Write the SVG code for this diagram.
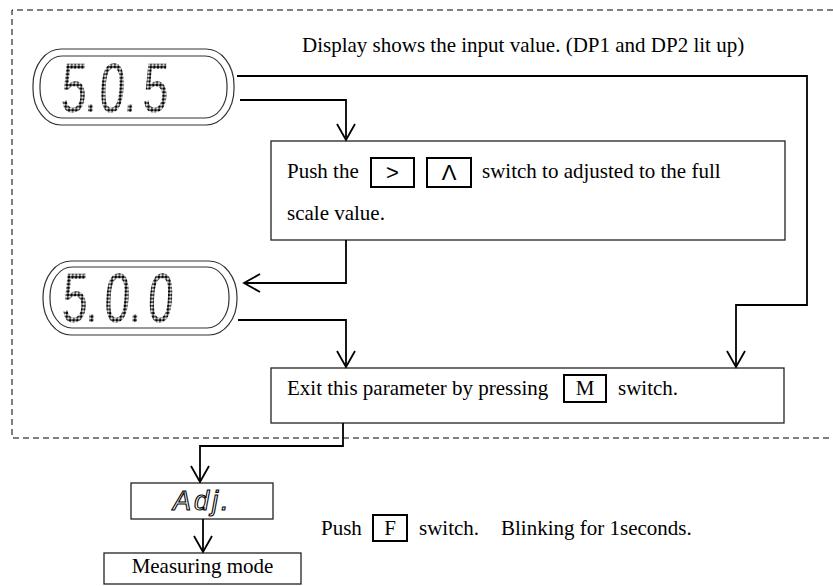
<svg xmlns="http://www.w3.org/2000/svg" width="833" height="586" viewBox="0 0 833 586">
<style>
.t{font-family:"Liberation Serif","Times New Roman",serif;font-size:21px;fill:#000}
.box{fill:#fff;stroke:#222;stroke-width:1.3}
.sw{fill:none;stroke:#000;stroke-width:2}
.disp{fill:none;stroke:#333;stroke-width:1.2}
.dig{font-family:"Liberation Sans",Arial,sans-serif;font-size:70px;fill:url(#dots)}
.conn{fill:none;stroke:#000;stroke-width:1.8}
.frame{fill:none;stroke:#000;stroke-width:1;stroke-dasharray:6 4}
.swl{font-family:"Liberation Sans",Arial,sans-serif;font-size:22px;fill:#000}
</style>
<defs>
<pattern id="dots" width="3.6" height="3.6" patternUnits="userSpaceOnUse" patternTransform="scale(1.515,1)">
<circle cx="1.8" cy="1.8" r="1.65" fill="#000"/>
</pattern>
<marker id="arr" viewBox="-18 -11 20 22" markerWidth="20" markerHeight="22" refX="0" refY="0" markerUnits="userSpaceOnUse" orient="auto" overflow="visible">
<path d="M-16,-9 L0,0 L-16,9" fill="none" stroke="#000" stroke-width="1.8"/>
</marker>
</defs>
<path class="frame" d="M833,10 H12 V438 H833"/>
<g id="title"><text class="t" x="302" y="52">Display shows the input value. (DP1 and DP2 lit up)</text></g>
<g id="display1">
<rect class="disp" x="33" y="49" width="201" height="76" rx="28" ry="36"/>
<rect class="disp" x="40" y="56" width="187" height="62" rx="22" ry="29"/>
<text class="dig" transform="translate(60,112) scale(0.66,1) skewX(-5)" x="0 36 58 96 124">5.0.5</text>
</g>
<g id="box2">
<rect class="box" x="271" y="141" width="514" height="99"/>
<text class="t" x="287" y="178">Push the</text>
<rect class="sw" x="371" y="158" width="43" height="29"/>
<text class="swl" x="392.5" y="180" text-anchor="middle">&gt;</text>
<rect class="sw" x="427" y="158" width="44" height="29"/>
<text class="swl" x="449" y="180" text-anchor="middle">Λ</text>
<text class="t" x="482" y="178">switch to adjusted to the full</text>
<text class="t" x="287" y="220">scale value.</text>
</g>
<g id="display2">
<rect class="disp" x="43" y="261" width="194" height="74" rx="28" ry="36"/>
<rect class="disp" x="50" y="267" width="179" height="61" rx="22" ry="29"/>
<text class="dig" transform="translate(61,322) scale(0.66,1) skewX(-5)" x="0 36 64 102 130">5.0.0</text>
</g>
<g id="box3">
<rect class="box" x="271" y="368" width="513" height="55"/>
<text class="t" x="287" y="395">Exit this parameter by pressing</text>
<rect class="sw" x="564" y="375" width="42" height="27"/>
<text class="t" x="585" y="395" text-anchor="middle">M</text>
<text class="t" x="618" y="395">switch.</text>
</g>
<g id="adj">
<rect class="box" x="131" y="483" width="142" height="36"/>
<text transform="translate(173,510) skewX(-0.01)" x="0" y="0" font-family="Liberation Sans,Arial,sans-serif" font-size="27" font-style="italic" fill="none" stroke="#000" stroke-width="1.1" letter-spacing="3">Adj.</text>
</g>
<g id="note">
<text class="t" x="321" y="535">Push</text>
<rect class="sw" x="373" y="515" width="34" height="26"/>
<text class="t" x="390" y="535" text-anchor="middle">F</text>
<text class="t" x="419" y="535">switch.</text>
<text class="t" x="501" y="535">Blinking for 1seconds.</text>
</g>
<g id="measuring">
<rect class="box" x="104" y="553" width="197" height="31"/>
<text class="t" x="202.5" y="573" text-anchor="middle">Measuring mode</text>
</g>
<g id="connectors">
<path class="conn" d="M237,76 H807 V305 H736 V367" marker-end="url(#arr)"/>
<path class="conn" d="M240,100 H346 V140" marker-end="url(#arr)"/>
<path class="conn" d="M346,240 V283 H244" marker-end="url(#arr)"/>
<path class="conn" d="M238,320 H346 V367" marker-end="url(#arr)"/>
<path class="conn" d="M343,423 V446 H200 V482" marker-end="url(#arr)"/>
<path class="conn" d="M203,519 V552" marker-end="url(#arr)"/>
</g>
</svg>
